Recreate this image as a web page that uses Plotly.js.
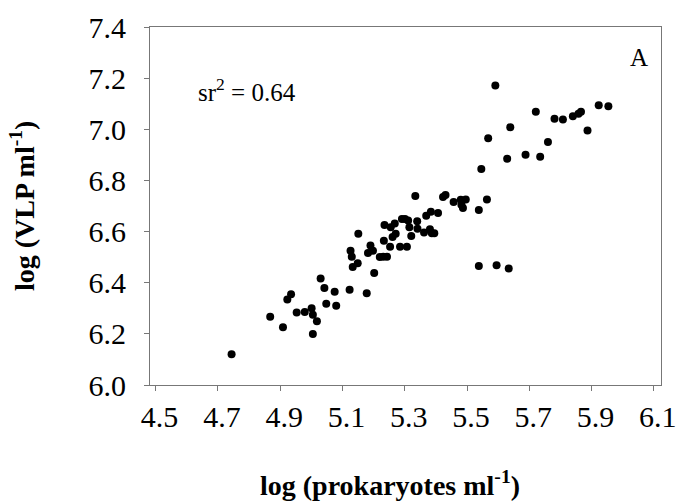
<!DOCTYPE html>
<html>
<head>
<meta charset="utf-8">
<script src="https://cdn.plot.ly/plotly-3.0.1.min.js"></script>
<style>html,body{margin:0;padding:0;background:#fff;}#chart{width:683px;height:501px;}</style>
</head>
<body>
<div id="chart"></div>
<script>
// log (prokaryotes ml-1)
const logProk = [4.744, 4.868, 4.909, 4.923, 4.935, 4.953, 4.979, 5.001, 5.005, 5.005,
  5.018, 5.030, 5.042, 5.048, 5.075, 5.080, 5.123, 5.178, 5.202, 5.126,
  5.130, 5.133, 5.149, 5.151, 5.182, 5.190, 5.198, 5.220, 5.233, 5.235,
  5.243, 5.253, 5.255, 5.261, 5.268, 5.271, 5.285, 5.291, 5.307, 5.311,
  5.315, 5.321, 5.334, 5.340, 5.341, 5.362, 5.369, 5.381, 5.384, 5.387,
  5.395, 5.407, 5.423, 5.431, 5.457, 5.480, 5.482, 5.487, 5.496, 5.538,
  5.564, 5.546, 5.568, 5.591, 5.538, 5.595, 5.634, 5.629, 5.639, 5.688,
  5.721, 5.735, 5.760, 5.781, 5.808, 5.840, 5.858, 5.866, 5.887, 5.923,
  5.954, 5.301, 5.231];
// log (VLP ml-1)
const logVLP = [6.120, 6.267, 6.226, 6.334, 6.355, 6.284, 6.285, 6.300, 6.275, 6.199,
  6.249, 6.416, 6.379, 6.318, 6.365, 6.310, 6.372, 6.359, 6.438, 6.525,
  6.502, 6.461, 6.476, 6.591, 6.516, 6.546, 6.525, 6.501, 6.564, 6.626,
  6.502, 6.541, 6.617, 6.579, 6.632, 6.591, 6.541, 6.649, 6.541, 6.643,
  6.617, 6.583, 6.739, 6.640, 6.611, 6.596, 6.662, 6.609, 6.678, 6.593,
  6.593, 6.673, 6.735, 6.743, 6.716, 6.724, 6.705, 6.692, 6.725, 6.684,
  6.725, 6.845, 6.965, 7.171, 6.465, 6.468, 6.456, 6.885, 7.008, 6.900,
  7.069, 6.893, 6.950, 7.041, 7.038, 7.051, 7.061, 7.069, 6.995, 7.094,
  7.090, 6.649, 6.502];

const xTicks = [4.5, 4.7, 4.9, 5.1, 5.3, 5.5, 5.7, 5.9, 6.1];
const xTickText = ['4.5', '4.7', '4.9', '5.1', '5.3', '5.5', '5.7', '5.9', '6.1'];
const yTicks = [6.0, 6.2, 6.4, 6.6, 6.8, 7.0, 7.2, 7.4];
const yTickText = ['6.0', '6.2', '6.4', '6.6', '6.8', '7.0', '7.2', '7.4'];

const serif = 'Liberation Serif, Times New Roman, serif';

const trace = {
  x: logProk, y: logVLP, type: 'scatter', mode: 'markers',
  marker: {color: '#000', size: 8, line: {width: 0}},
  hoverinfo: 'skip', showlegend: false
};

const layout = {
  width: 683, height: 501,
  margin: {l: 150, r: 22, t: 27, b: 116},
  paper_bgcolor: '#fff', plot_bgcolor: '#fff',
  font: {family: serif, color: '#000'},
  xaxis: {
    range: [4.482, 6.123], tickvals: xTicks, ticktext: xTickText,
    ticks: 'outside', ticklen: 5, tickcolor: '#777', tickwidth: 1,
    showline: true, linecolor: '#777', linewidth: 1, mirror: true,
    showgrid: false, zeroline: false, ticklabelshift: 4, ticklabelstandoff: 0,
    tickfont: {family: serif, size: 30, color: '#000'}
  },
  yaxis: {
    range: [6.0, 7.4], tickvals: yTicks, ticktext: yTickText,
    ticks: 'outside', ticklen: 5, tickcolor: '#777', tickwidth: 1,
    showline: true, linecolor: '#777', linewidth: 1, mirror: true,
    showgrid: false, zeroline: false, ticklabelstandoff: 12,
    tickfont: {family: serif, size: 30, color: '#000'}
  },
  annotations: [
    {text: '<b>log (prokaryotes ml<sup>-1</sup>)</b>', xref: 'paper', yref: 'paper', x: 0.47,
     y: 0, yshift: -98, xanchor: 'center', yanchor: 'middle', showarrow: false,
     font: {family: serif, size: 28, color: '#000'}},
    {text: '<b>log (VLP ml<sup>-1</sup>)</b>', xref: 'paper', yref: 'paper', x: 0, xshift: -128,
     y: 0.5, xanchor: 'center', yanchor: 'middle', textangle: -90, showarrow: false,
     font: {family: serif, size: 28, color: '#000'}},
    {text: 'sr<sup>2</sup> = 0.64', xref: 'paper', yref: 'paper', x: 0.09, y: 0.825,
     xanchor: 'left', yanchor: 'middle', showarrow: false, font: {family: serif, size: 25, color: '#000'}},
    {text: 'A', xref: 'paper', yref: 'paper', x: 0.978, y: 0.915,
     xanchor: 'right', yanchor: 'middle', showarrow: false, font: {family: serif, size: 25, color: '#000'}}
  ]
};

Plotly.newPlot('chart', [trace], layout, {displayModeBar: false, staticPlot: true});
</script>
</body>
</html>
